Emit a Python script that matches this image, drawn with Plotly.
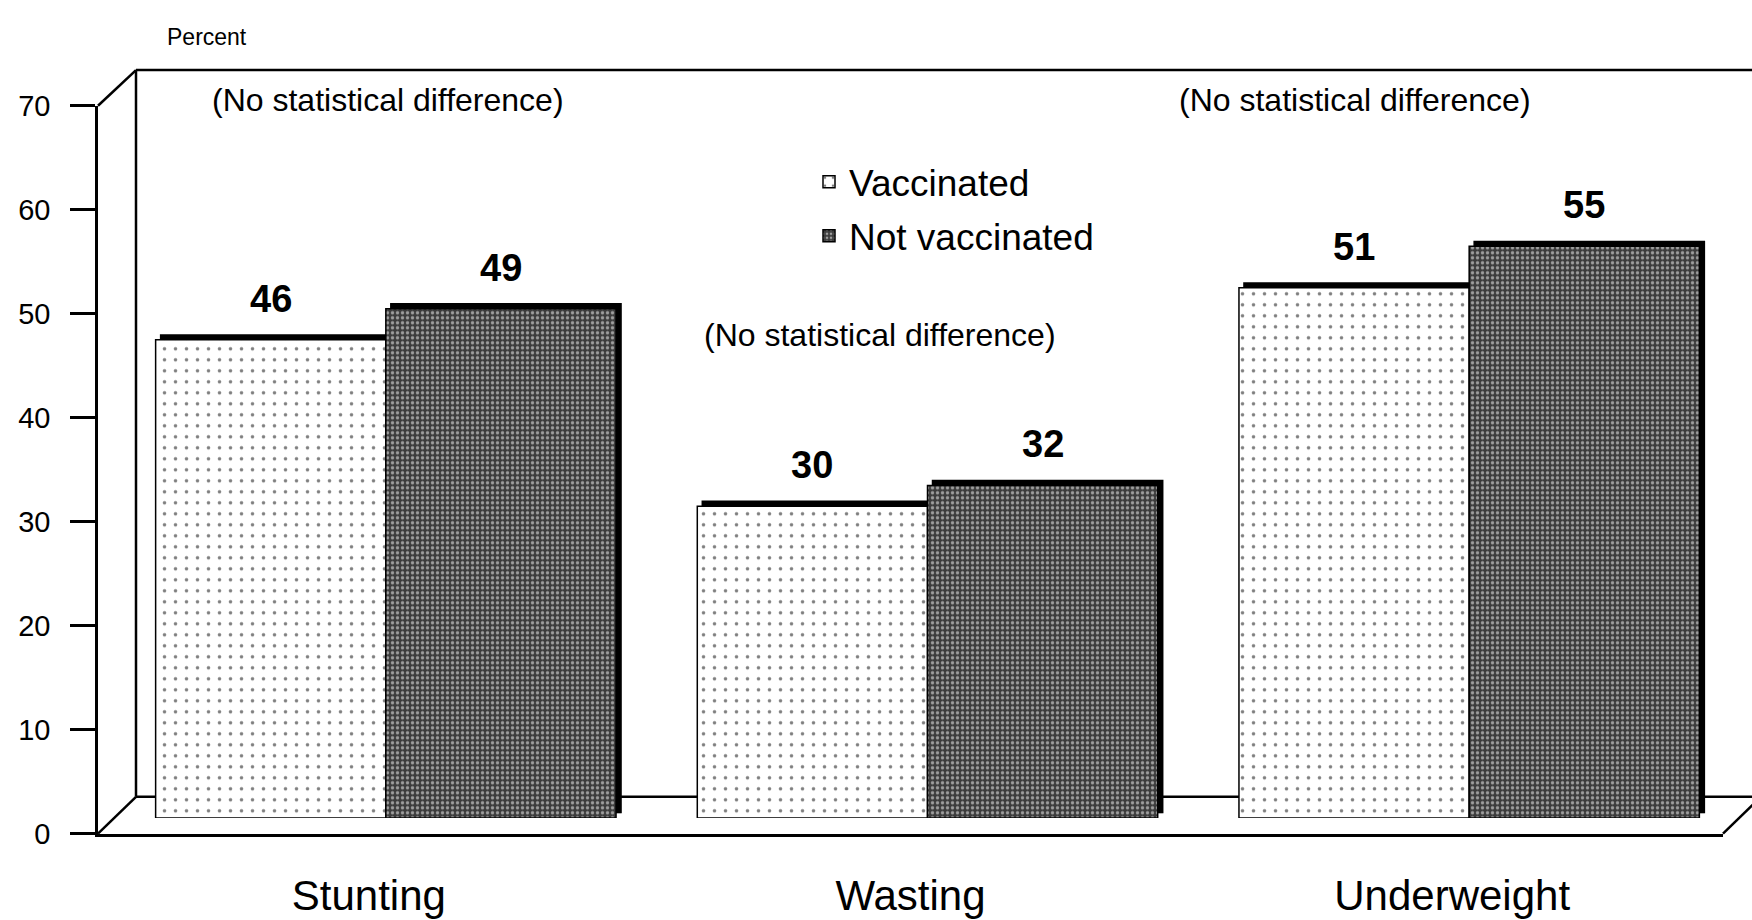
import plotly.graph_objects as go

# ---- data ----
categories = ["Stunting", "Wasting", "Underweight"]
vaccinated = [46, 30, 51]
not_vaccinated = [49, 32, 55]
series_names = ["Vaccinated", "Not vaccinated"]
y_ticks = [0, 10, 20, 30, 40, 50, 60, 70]
note_text = "(No statistical difference)"
y_title = "Percent"

# ---- layout constants (pixels) ----
W, H = 1752, 920
FONT = "Liberation Sans, Arial, sans-serif"
F_LEFT, F_RIGHT, F_BOTTOM, F_TOP = 98, 1723, 847, 93       # front plane
BACK_DX, BACK_DY = 38, 38                                   # back wall offset
BACK_TOP = 56
BAR_DX, BAR_DY = 17, 16                                     # bar plane offset
SH_DX, SH_DY = 5, 5                                         # bar depth (shadow)
BARGAP = 0.15


def px(x):
    return x / W


def py(y):
    return 1 - y / H


fig = go.Figure()

# invisible anchor trace for the front axes
fig.add_trace(go.Scatter(
    x=categories, y=[0] * len(categories), xaxis="x", yaxis="y",
    mode="markers", marker=dict(opacity=0), showlegend=False, hoverinfo="skip",
))

# shadow (depth) bars
for vals in (vaccinated, not_vaccinated):
    fig.add_trace(go.Bar(
        x=categories, y=vals, xaxis="x2", yaxis="y2",
        marker=dict(color="black", line=dict(color="black", width=1.5)),
        showlegend=False, hoverinfo="skip",
    ))

# front bars
fig.add_trace(go.Bar(
    name=series_names[0], x=categories, y=vaccinated, xaxis="x3", yaxis="y3",
    legendgroup="g1",
    marker=dict(color="white",
                line=dict(color="black", width=1.5),
                pattern=dict(shape=".", bgcolor="white", fgcolor="black",
                             size=11, solidity=0.08)),
))
fig.add_trace(go.Bar(
    name=series_names[1], x=categories, y=not_vaccinated, xaxis="x3", yaxis="y3",
    legendgroup="g2",
    marker=dict(color="#3c3c3c",
                line=dict(color="black", width=1.5),
                pattern=dict(shape=".", bgcolor="#3c3c3c", fgcolor="white",
                             size=5, solidity=0.35)),
))

annotations = []
# value labels
half = (1 - BARGAP) / 4
for i, (v1, v2) in enumerate(zip(vaccinated, not_vaccinated)):
    for off, v in ((-half, v1), (half, v2)):
        annotations.append(dict(
            x=i + off, y=v, xref="x3", yref="y3", text=f"<b>{v}</b>",
            showarrow=False, yshift=41, yanchor="middle",
            font=dict(family=FONT, size=38, color="black"),
        ))

# notes
for cx, cy in ((388, 87), (1355, 87), (880, 331)):
    annotations.append(dict(
        x=px(cx), y=py(cy), xref="paper", yref="paper", text=note_text,
        showarrow=False, xanchor="center", yanchor="middle",
        font=dict(family=FONT, size=32, color="black"),
    ))

annotations.append(dict(
    x=px(207), y=py(22), xref="paper", yref="paper", text=y_title,
    showarrow=False, xanchor="center", yanchor="middle",
    font=dict(family=FONT, size=23, color="black"),
))

# 3D frame lines
LW = 2.5
frame = [
    (F_LEFT + BACK_DX, BACK_TOP, W + 10, BACK_TOP),
    (F_LEFT + BACK_DX, BACK_TOP, F_LEFT + BACK_DX, F_BOTTOM - BACK_DY),
    (F_LEFT + BACK_DX, F_BOTTOM - BACK_DY, W + 10, F_BOTTOM - BACK_DY),
    (F_LEFT, F_TOP, F_LEFT + BACK_DX, BACK_TOP),
    (F_LEFT, F_BOTTOM, F_LEFT + BACK_DX, F_BOTTOM - BACK_DY),
    (F_RIGHT, F_BOTTOM, F_RIGHT + BACK_DX, F_BOTTOM - BACK_DY),
]
shapes = [dict(type="line", xref="paper", yref="paper",
               x0=px(a), y0=py(b), x1=px(c), y1=py(d),
               line=dict(color="black", width=LW), layer="below")
          for a, b, c, d in frame]

hidden = dict(visible=False, showgrid=False, zeroline=False)

fig.update_layout(
    width=W, height=H,
    margin=dict(l=0, r=0, t=0, b=0),
    paper_bgcolor="white", plot_bgcolor="rgba(0,0,0,0)",
    barmode="group", bargap=BARGAP, bargroupgap=0,
    font=dict(family=FONT, color="black"),
    showlegend=True,
    legend=dict(x=px(809), y=py(140), xanchor="left", yanchor="top",
                bgcolor="rgba(0,0,0,0)", borderwidth=0,
                font=dict(family=FONT, size=37, color="black"),
                tracegroupgap=3, itemwidth=30),
    xaxis=dict(domain=[px(F_LEFT), px(F_RIGHT)], range=[-0.5, 2.5],
               type="category", categoryarray=categories,
               showline=True, linecolor="black", linewidth=LW,
               ticks="outside", ticklen=23, tickcolor="rgba(0,0,0,0)",
               tickfont=dict(family=FONT, size=42, color="black"),
               showgrid=False, zeroline=False, anchor="y", fixedrange=True),
    yaxis=dict(domain=[py(F_BOTTOM), py(F_TOP)], range=[0, 70],
               tickvals=y_ticks, showline=True, linecolor="black", linewidth=LW,
               ticks="outside", ticklen=25, tickwidth=LW, tickcolor="black",
               ticklabelstandoff=14,
               tickfont=dict(family=FONT, size=29, color="black"),
               showgrid=False, zeroline=False, anchor="x", fixedrange=True),
    xaxis2=dict(domain=[px(F_LEFT + BAR_DX + SH_DX), px(F_RIGHT + BAR_DX + SH_DX)],
                range=[-0.5, 2.5], type="category", categoryarray=categories,
                anchor="y2", **hidden),
    yaxis2=dict(domain=[py(F_BOTTOM - BAR_DY - SH_DY), py(F_TOP - BAR_DY - SH_DY)],
                range=[0, 70], anchor="x2", **hidden),
    xaxis3=dict(domain=[px(F_LEFT + BAR_DX), px(F_RIGHT + BAR_DX)],
                range=[-0.5, 2.5], type="category", categoryarray=categories,
                anchor="y3", **hidden),
    yaxis3=dict(domain=[py(F_BOTTOM - BAR_DY), py(F_TOP - BAR_DY)],
                range=[0, 70], anchor="x3", **hidden),
    annotations=annotations,
    shapes=shapes,
)

fig.write_html("out.html", config={"responsive": False, "displayModeBar": False})

# remove default page margin so the figure sits at the window origin
with open("out.html", encoding="utf-8") as f:
    html = f.read()
html = html.replace("<body>", '<body style="margin:0;padding:0;overflow:hidden">', 1)
with open("out.html", "w", encoding="utf-8") as f:
    f.write(html)
